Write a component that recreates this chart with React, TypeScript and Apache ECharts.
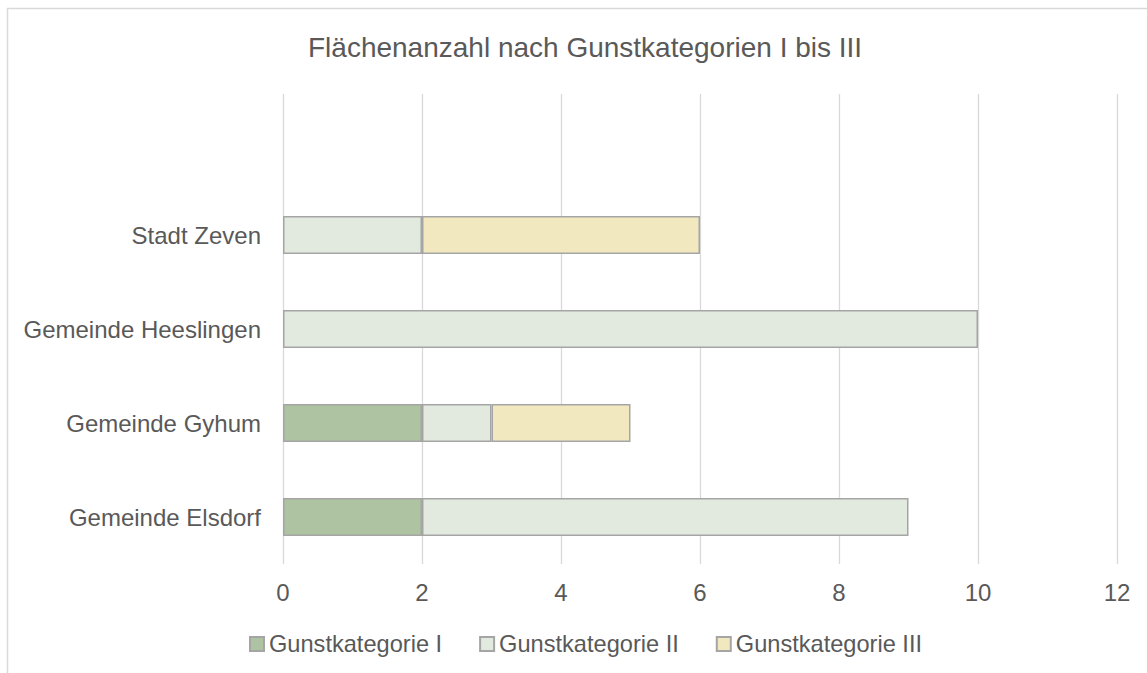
import React, { useEffect, useRef } from "react";
import * as echarts from "echarts";

const categories = ["Gemeinde Elsdorf", "Gemeinde Gyhum", "Gemeinde Heeslingen", "Stadt Zeven", ""];
const seriesNames = ["Gunstkategorie I", "Gunstkategorie II", "Gunstkategorie III"];
const kategorieI = [2, 2, null, null, null];
const kategorieII = [7, 1, 10, 2, null];
const kategorieIII = [null, 2, null, 4, null];
const xTicks = { min: 0, max: 12, interval: 2 };
const colors = ["#aec3a1", "#e2eadf", "#f2e8c0"];

export default function App() {
  const ref = useRef<HTMLDivElement>(null);
  useEffect(() => {
    if (!ref.current) return;
    const chart = echarts.init(ref.current, undefined, { renderer: "svg" });
    const font = "'Liberation Sans', Arial, sans-serif";
    const values = [kategorieI, kategorieII, kategorieIII];
    chart.setOption({
      animation: false,
      backgroundColor: "#ffffff",
      textStyle: { fontFamily: font },
      title: {
        text: "Flächenanzahl nach Gunstkategorien I bis III",
        left: 303,
        top: 28,
        textStyle: { fontFamily: font, fontSize: 28, fontWeight: "normal", color: "#595959" },
      },
      graphic: [
        {
          type: "rect",
          shape: { x: 7.5, y: 8.5, width: 1300, height: 800 },
          style: { fill: "none", stroke: "#d9d9d9", lineWidth: 1.5 },
          silent: true,
        },
      ],
      legend: {
        data: seriesNames,
        top: 632,
        left: 249,
        padding: 0,
        itemWidth: 14,
        itemHeight: 14,
        itemGap: 37,
        icon: "rect",
        textStyle: { fontFamily: font, fontSize: 23.6, color: "#595959" },
      },
      grid: { left: 283, right: 30, top: 94, bottom: 109, containLabel: false },
      xAxis: {
        type: "value",
        min: xTicks.min,
        max: xTicks.max,
        interval: xTicks.interval,
        axisLine: { show: false },
        axisTick: { show: false },
        splitLine: { show: true, lineStyle: { color: "#d9d9d9", width: 1.3 } },
        axisLabel: { fontFamily: font, fontSize: 24, color: "#595959", margin: 16 },
      },
      yAxis: {
        type: "category",
        data: categories,
        axisLine: { show: false },
        axisTick: { show: false },
        splitLine: { show: false },
        axisLabel: { fontFamily: font, fontSize: 24, color: "#595959", margin: 22 },
      },
      series: seriesNames.map((name, i) => ({
        name,
        type: "bar",
        stack: "total",
        barWidth: 38,
        data: values[i],
        itemStyle: { color: colors[i], borderColor: "#a5a5a5", borderWidth: 1.5 },
      })),
    });
    return () => chart.dispose();
  }, []);
  return (
    <div style={{ position: "fixed", left: 0, top: 0, width: 1147, height: 673, overflow: "hidden" }}>
      <div ref={ref} style={{ width: 1147, height: 673 }} />
    </div>
  );
}
